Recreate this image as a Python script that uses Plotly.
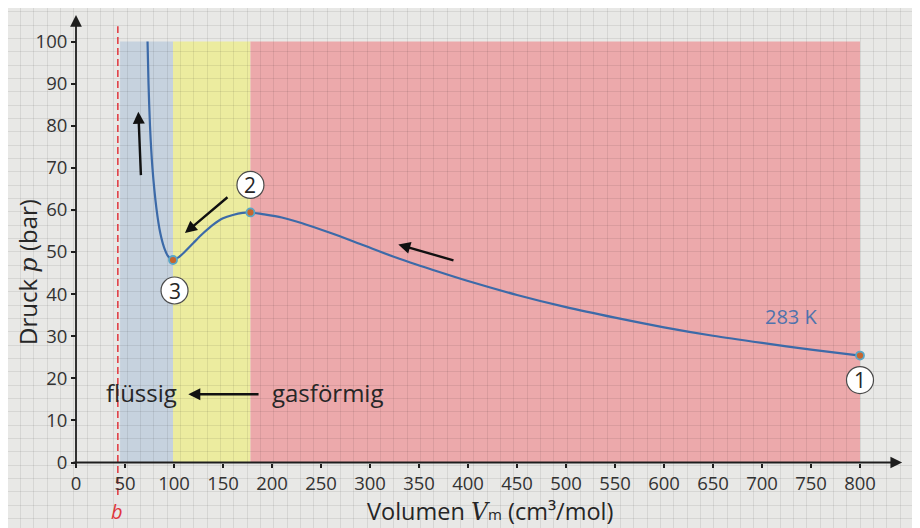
import plotly.graph_objects as go

# ---------------- data ----------------
volume = [73, 74, 75.5, 78, 82, 86, 90, 94, 99, 105, 112, 120, 130, 140, 150,
          160, 170, 178, 190, 210, 230, 260, 290, 330, 370, 400, 450, 500,
          550, 600, 650, 700, 750, 800]
pressure = [100, 90, 80, 70, 60.5, 54.5, 51, 49, 48.1, 48.8, 50.3, 52.2, 54.5,
            56.5, 58, 58.8, 59.3, 59.4, 59.0, 58.2, 56.9, 54.5, 51.9, 48.4,
            45.3, 43.1, 39.8, 36.9, 34.4, 32.1, 30.1, 28.4, 26.8, 25.4]

point_v = [800, 178, 99]
point_p = [25.4, 59.4, 48.1]
point_labels = ["1", "2", "3"]

region_x0 = [45, 99, 178]
region_x1 = [99, 178, 800]
region_top = 100

b_value = 42.7
temperature_label = "283 K"

x_ticks = list(range(0, 801, 50))
y_ticks = list(range(0, 101, 10))

# ---------------- styling / geometry ----------------
# page has an 8px body margin; figure is sized to fill the rest of the window
OFF = 8
W, H = 920 - OFF, 528 - OFF
PX0_X, PX_PER_X = 76 - OFF, 0.98      # figure pixel of V=0, pixels per unit
PX0_Y, PX_PER_Y = 462.5 - OFF, 4.21   # figure pixel of p=0, pixels per unit

x_range = [-PX0_X / PX_PER_X, (W - PX0_X) / PX_PER_X]
y_range = [-(H - PX0_Y) / PX_PER_Y, PX0_Y / PX_PER_Y]

FONT = "Open Sans"
TXT = "#262626"
region_colors = ["#c6d2de", "#ecec9f", "#eca9ab"]
grid_col = "rgba(0,0,0,0.075)"


def paper_x(screen_x):
    return (screen_x - OFF) / W


def paper_y(screen_y):
    return (H - (screen_y - OFF)) / H


fig = go.Figure()

# b line
fig.add_trace(go.Scatter(x=[b_value, b_value], y=[-7.7, 103.6], mode="lines",
                         line=dict(color="#e0363c", width=1.5, dash="7px,4px"),
                         hoverinfo="skip", showlegend=False))
# isotherm
fig.add_trace(go.Scatter(x=volume, y=pressure, mode="lines",
                         line=dict(color="#3c6aa8", width=2.2, shape="spline",
                                   smoothing=0.8),
                         showlegend=False))
# state points
fig.add_trace(go.Scatter(x=point_v, y=point_p, mode="markers",
                         marker=dict(size=8, color="#c5662e",
                                     line=dict(color="#5aa6c6", width=1.8)),
                         showlegend=False))

shapes = []
for x0, x1, c in zip(region_x0, region_x1, region_colors):
    shapes.append(dict(type="rect", xref="x", yref="y", x0=x0, x1=x1,
                       y0=0, y1=region_top, fillcolor=c, line_width=0,
                       layer="below"))

label_offsets = [(0, -24.5), (0, 27.5), (1.5, -30.5)]
R = 13.5
annotations = []
for v, p, lab, (dx, dy) in zip(point_v, point_p, point_labels, label_offsets):
    shapes.append(dict(type="circle", xref="x", yref="y",
                       xsizemode="pixel", ysizemode="pixel",
                       xanchor=v, yanchor=p,
                       x0=dx - R, x1=dx + R, y0=dy - R, y1=dy + R,
                       fillcolor="white", line=dict(color="#4a4a4a", width=1.2),
                       layer="above"))
    annotations.append(dict(x=v, y=p, xref="x", yref="y", text=lab,
                            xshift=dx, yshift=dy, showarrow=False,
                            xanchor="center", yanchor="middle",
                            font=dict(family=FONT, size=21, color=TXT)))


def arrow(tail, head, width=2.4, size=1.0, color="#111"):
    return dict(x=head[0], y=head[1], ax=tail[0], ay=tail[1],
                xref="x", yref="y", axref="x", ayref="y", text="",
                showarrow=True, arrowhead=2, arrowsize=size,
                arrowwidth=width, arrowcolor=color, standoff=0)


# coordinate axes with arrow heads
annotations.append(arrow((-4, 0), (843, 0), width=1.8, size=1.3, color="#1e1e1e"))
annotations.append(arrow((0, -0.9), (0, 106.3), width=1.8, size=1.3, color="#1e1e1e"))

# process arrows
annotations.append(arrow((66.3, 67.9), (63.6, 83.3)))
annotations.append(arrow((156.1, 63.3), (111.2, 54.5)))
annotations.append(arrow((386.7, 47.9), (328.9, 51.8)))
annotations.append(arrow((187.8, 16.2), (114.6, 16.2)))

annotations += [
    dict(x=67.3, y=16.6, xref="x", yref="y", text="flüssig", showarrow=False,
         xanchor="center", yanchor="middle",
         font=dict(family=FONT, size=24, color=TXT)),
    dict(x=256.6, y=16.6, xref="x", yref="y", text="gasförmig", showarrow=False,
         xanchor="center", yanchor="middle",
         font=dict(family=FONT, size=24, color=TXT)),
    dict(x=730.6, y=34.7, xref="x", yref="y", text=temperature_label,
         showarrow=False, xanchor="center", yanchor="middle",
         font=dict(family=FONT, size=20, color="#4f73ad")),
    dict(x=b_value - 1.2, y=-11.7, xref="x", yref="y", text="<i>b</i>",
         showarrow=False, xanchor="center", yanchor="middle",
         font=dict(family=FONT, size=20, color="#e0363c")),
    dict(x=paper_x(490), y=paper_y(510.5), xref="paper", yref="paper",
         text="Volumen <span style='font-family:DejaVu Serif'><i>V</i></span>"
              "<span style='font-size:15px'>m</span> (cm³/mol)",
         showarrow=False, xanchor="center", yanchor="middle", borderpad=0,
         font=dict(family=FONT, size=23.5, color=TXT)),
    dict(x=paper_x(27), y=paper_y(272), xref="paper", yref="paper",
         text="Druck <span style='font-family:DejaVu Serif'><i>p</i></span> (bar)",
         textangle=-90, showarrow=False, xanchor="center", yanchor="middle",
         font=dict(family=FONT, size=24, color=TXT)),
]

fig.update_layout(
    width=W, height=H, margin=dict(l=0, r=0, t=0, b=0),
    paper_bgcolor="#e8e8e6", plot_bgcolor="#e8e8e6",
    font=dict(family=FONT, color=TXT),
    shapes=shapes, annotations=annotations, showlegend=False,
    xaxis=dict(domain=[0, 1], range=x_range, anchor="free",
               position=(H - PX0_Y) / H, tickmode="array", tickvals=x_ticks,
               ticks="outside", ticklen=4, tickwidth=1.5, tickcolor="#1e1e1e",
               tickfont=dict(size=18.5, color="#333"),
               showline=False, zeroline=False, showgrid=False,
               minor=dict(tickmode="linear", tick0=800.3, dtick=13.6,
                          showgrid=True, gridcolor=grid_col, gridwidth=1,
                          ticks="")),
    yaxis=dict(domain=[0, 1], range=y_range, anchor="free",
               position=PX0_X / W, tickmode="array", tickvals=y_ticks,
               ticks="outside", ticklen=5, tickwidth=1.5, tickcolor="#1e1e1e",
               tickfont=dict(size=18.5, color="#333"),
               showline=False, zeroline=False, showgrid=False,
               minor=dict(tickmode="linear", tick0=-0.6, dtick=3.167,
                          showgrid=True, gridcolor=grid_col, gridwidth=1,
                          ticks="")),
)

fig.write_html("out.html")
